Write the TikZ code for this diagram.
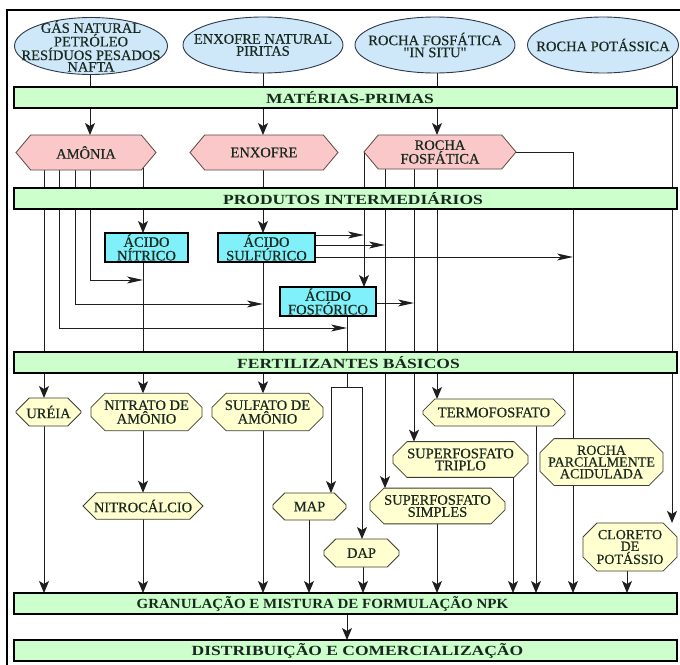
\documentclass[tikz,border=0pt]{standalone}
\usepackage{fontspec}
\usepackage{graphicx}
\setmainfont{Liberation Serif}
\newfontfamily\boxfont[FakeBold=0.4]{Liberation Serif}
\usetikzlibrary{shapes.geometric,shapes.misc,shapes.symbols,arrows.meta}
\definecolor{ellfill}{RGB}{206,232,250}
\definecolor{ellline}{RGB}{45,55,75}
\definecolor{barfill}{RGB}{204,255,204}
\definecolor{hexfill}{RGB}{250,200,200}
\definecolor{hexline}{RGB}{90,70,70}
\definecolor{cyanfill}{RGB}{128,240,250}
\definecolor{octfill}{RGB}{255,255,208}
\definecolor{octline}{RGB}{60,60,50}
\definecolor{txt}{RGB}{25,40,30}
\definecolor{wirec}{RGB}{30,30,30}
\pgfdeclarelayer{bg}
\pgfsetlayers{bg,main}
\newcommand{\bartext}[3]{\hspace*{#2}\scalebox{#1}[1]{#3}}
\begin{document}
\begin{tikzpicture}[x=1pt,y=-1pt,
  every node/.style={inner sep=0pt,outer sep=0pt,text=txt},
  txtfont/.style={font=\boxfont\fontsize{14.5}{12}\selectfont},
  tightfont/.style={font=\boxfont\fontsize{14}{11.7}\selectfont},
  lbl/.style={txtfont,align=center},
  ell/.style={ellipse,draw=ellline,line width=0.9pt,fill=ellfill},
  bar/.style={rectangle,draw=black,line width=2.4pt,fill=barfill,minimum width=663pt,minimum height=21pt,font=\bfseries\fontsize{14}{14}\selectfont},
  hex/.style={signal,signal to=west and east,signal pointer angle=100,draw=hexline,line width=0.8pt,fill=hexfill,txtfont,align=center},
  acid/.style={rectangle,draw=black,line width=2pt,fill=cyanfill,txtfont,align=center},
  oct/.style={chamfered rectangle,chamfered rectangle xsep=7pt,chamfered rectangle ysep=7pt,draw=octline,line width=0.8pt,fill=octfill,txtfont,align=center},
  wire/.style={draw=wirec,line width=1pt},
  av/.style={wire,-{Stealth[length=12pt,width=10pt,inset=3pt]}},
  ah/.style={wire,-{Stealth[length=16pt,width=7pt,inset=4pt]}},
]
\useasboundingbox (0,0) rectangle (680,664);
\draw[line width=2.2pt] (7,10) rectangle (720,720);

% raw materials
\node[ell,minimum width=153pt,minimum height=57pt,label={[lbl,font=\boxfont\fontsize{14.5}{11.6}\selectfont]center:GÁS NATURAL\\PETRÓLEO\\RESÍDUOS PESADOS\\NAFTA}] (e1) at (91,46) {};
\node[ell,minimum width=160pt,minimum height=56pt,label={[lbl]center:ENXOFRE NATURAL\\PIRITAS}] (e2) at (263,45) {};
\node[ell,minimum width=160pt,minimum height=56pt,label={[lbl]center:ROCHA FOSFÁTICA\\"IN SITU"}] (e3) at (435,45) {};
\node[ell,minimum width=151pt,minimum height=56pt,label={[lbl]center:ROCHA POTÁSSICA}] (e4) at (603,45) {};

% bars
\node[bar] (mp) at (345.5,97.5) {\bartext{1.25}{9pt}{MATÉRIAS-PRIMAS}};
\node[bar] (pi) at (345.5,198.5) {\bartext{1.25}{15pt}{PRODUTOS INTERMEDIÁRIOS}};
\node[bar] (fb) at (345.5,362.5) {\bartext{1.25}{6pt}{FERTILIZANTES BÁSICOS}};
\node[bar] (gm) at (345.5,603.5) {\bartext{1.07}{-46pt}{GRANULAÇÃO E MISTURA DE FORMULAÇÃO NPK}};
\node[bar] (dc) at (345.5,650.5) {\bartext{1.25}{24pt}{DISTRIBUIÇÃO E COMERCIALIZAÇÃO}};

% hexagons
\node[hex,minimum width=140pt,minimum height=35pt] (amonia) at (86,152.5) {AMÔNIA};
\node[hex,minimum width=148pt,minimum height=35pt] (enxofre) at (264,152.5) {ENXOFRE};
\node[hex,minimum width=152pt,minimum height=34pt] (rocha) at (440,152) {ROCHA\\FOSFÁTICA};

% acids
\node[acid,minimum width=83pt,minimum height=29pt] (nitrico) at (146.5,247.5) {ÁCIDO\\NÍTRICO};
\node[acid,minimum width=97pt,minimum height=29pt] (sulfurico) at (266.5,247.5) {ÁCIDO\\SULFÚRICO};
\node[acid,minimum width=96pt,minimum height=29pt] (fosforico) at (328,301.5) {ÁCIDO\\FOSFÓRICO};

% basic fertilizers
\node[oct,minimum width=65pt,minimum height=28pt] (ureia) at (48.5,412) {URÉIA};
\node[oct,minimum width=111pt,minimum height=28pt] (nitrato) at (146.5,412) {NITRATO DE\\AMÔNIO};
\node[oct,minimum width=111pt,minimum height=28pt] (sulfato) at (267.5,412) {SULFATO DE\\AMÔNIO};
\node[oct,minimum width=142pt,minimum height=27pt] (termo) at (494,412.5) {TERMOFOSFATO};
\node[oct,minimum width=135pt,minimum height=27pt] (triplo) at (460.5,459.5) {SUPERFOSFATO\\TRIPLO};
\node[oct,minimum width=123pt,minimum height=33pt,tightfont] (rpa) at (601.5,462) {ROCHA\\PARCIALMENTE\\ACIDULADA};
\node[oct,minimum width=120pt,minimum height=26pt] (nitrocalcio) at (143,506) {NITROCÁLCIO};
\node[oct,minimum width=73pt,minimum height=27pt] (map) at (309.5,506.5) {MAP};
\node[oct,minimum width=135pt,minimum height=26pt] (simples) at (437.5,506) {SUPERFOSFATO\\SIMPLES};
\node[oct,minimum width=75pt,minimum height=28pt] (dap) at (361.5,553) {DAP};
\node[oct,minimum width=94pt,minimum height=37pt,tightfont] (cloreto) at (630,547) {CLORETO\\DE\\POTÁSSIO};

\coordinate (jf) at (347,387);

\begin{pgfonlayer}{bg}
\draw[wire] (e1.center -| 90,0) -- (mp.center -| 90,0);
\draw[wire] (e2.center -| 263,0) -- (mp.center -| 263,0);
\draw[wire] (e3.center -| 437,0) -- (mp.center -| 437,0);
\draw[av] (e4.center -| 672,0) -- (cloreto.north -| 672,0);
\draw[av] (mp.south -| 90,0) -- (amonia.north -| 90,0);
\draw[av] (mp.south -| 263,0) -- (enxofre.north -| 263,0);
\draw[av] (mp.south -| 437,0) -- (rocha.north -| 437,0);
% from amonia
\draw[av] (amonia.center -| 44,0) -- (ureia.north -| 44,0);
\draw[ah] (amonia.center -| 59,0) |- (jf |- 0,328);
\draw[ah] (amonia.center -| 75,0) |- (263,304);
\draw[ah] (amonia.center -| 90,0) |- (143,280);
\draw[av] (amonia.center -| 143,0) -- (nitrico.north -| 143,0);
% from enxofre
\draw[av] (enxofre.center -| 263,0) -- (sulfurico.north -| 263,0);
% from rocha
\draw[av] (rocha.west) -- (fosforico.north -| rocha.west);
\draw[av] (rocha.center -| 385,0) -- (simples.north -| 385,0);
\draw[av] (rocha.center -| 414,0) -- (triplo.north -| 414,0);
\draw[av] (rocha.center -| 437,0) -- (termo.north -| 437,0);
\draw[wire] (rocha.east) -| (rpa.north -| 573,0);
% from sulfurico
\draw[ah] (sulfurico.east |- 0,235) -- (rocha.west |- 0,235);
\draw[ah] (sulfurico.east |- 0,245) -- (385,245);
\draw[ah] (sulfurico.east |- 0,257) -- (573,257);
\draw[av] (sulfurico.center -| 263,0) -- (sulfato.north -| 263,0);
% from nitrico
\draw[av] (nitrico.center -| 143,0) -- (nitrato.north -| 143,0);
% from fosforico
\draw[ah] (fosforico.east |- 0,303) -- (414,303);
\draw[wire] (fosforico.center -| jf) -- (jf);
\draw[av] (jf) -| (map.north -| 331,0);
\draw[av] (jf) -| (dap.north -| 362,0);
% to granulation
\draw[av] (ureia.center -| 44,0) -- (gm.north -| 44,0);
\draw[av] (nitrato.center -| 143,0) -- (nitrocalcio.north -| 143,0);
\draw[av] (nitrocalcio.center -| 143,0) -- (gm.north -| 143,0);
\draw[av] (sulfato.center -| 263,0) -- (gm.north -| 263,0);
\draw[av] (map.center -| 309,0) -- (gm.north -| 309,0);
\draw[av] (dap.center -| 363,0) -- (gm.north -| 363,0);
\draw[av] (simples.center -| 437,0) -- (gm.north -| 437,0);
\draw[av] (triplo.center -| 513,0) -- (gm.north -| 513,0);
\draw[av] (termo.center -| 536,0) -- (gm.north -| 536,0);
\draw[av] (rpa.center -| 573,0) -- (gm.north -| 573,0);
\draw[av] (cloreto.center -| 627,0) -- (gm.north -| 627,0);
\draw[av] (gm.center -| 347,0) -- (dc.north -| 347,0);
\end{pgfonlayer}
\end{tikzpicture}
\end{document}
